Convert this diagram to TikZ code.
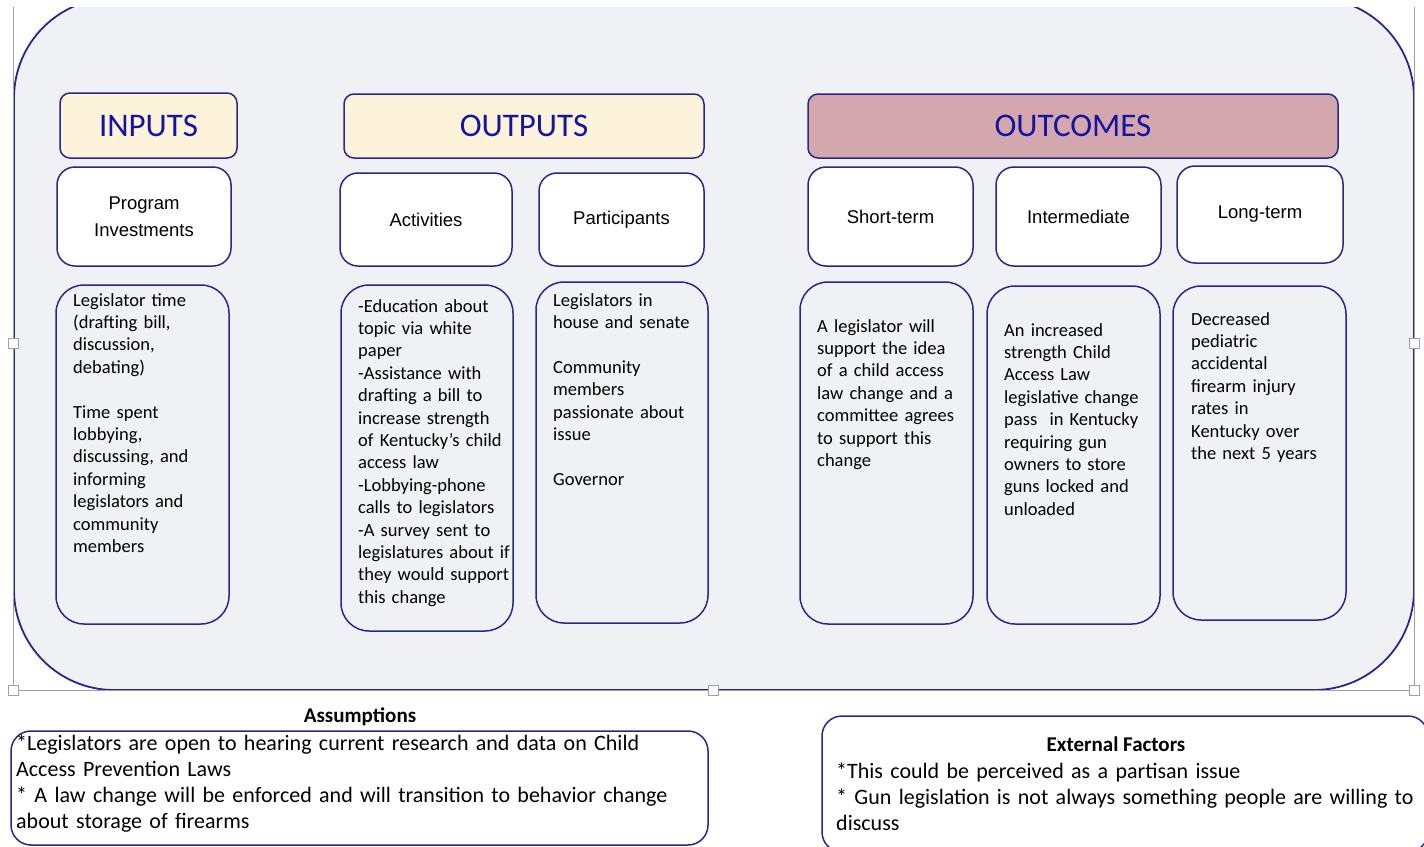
\documentclass[tikz,border=0pt]{standalone}
\usepackage{fontspec}
\setmainfont{Carlito}
\newfontfamily\arialfont{Liberation Sans}

\definecolor{framecol}{RGB}{40,40,140}
\definecolor{bgfill}{RGB}{240,241,244}
\definecolor{creamfill}{RGB}{252,243,218}
\definecolor{mauvefill}{RGB}{212,166,174}
\definecolor{hdrtext}{RGB}{20,20,160}
\definecolor{selgray}{RGB}{160,160,160}

\tikzset{
  hdrbox/.style={draw=framecol, line width=1.5pt, rounded corners=10pt, inner sep=0pt,
    font=\fontsize{33}{40}\selectfont, text=hdrtext},
  lblbox/.style={draw=framecol, fill=white, line width=1.5pt, rounded corners=18pt, inner sep=0pt,
    align=center, font=\arialfont\fontsize{18.5}{27}\selectfont},
  bodybox/.style={draw=framecol, line width=1.5pt, rounded corners=28pt, inner sep=0pt},
  bodytext/.style={anchor=base west, inner sep=0pt, text width=170pt, align=left,
    font=\fontsize{18.5}{22.4}\selectfont},
  notebox/.style={draw=framecol, fill=white, line width=1.5pt, rounded corners=20pt, inner sep=0pt},
  notetext/.style={anchor=base west, inner sep=0pt, align=left,
    font=\fontsize{22}{26}\selectfont},
  notetitle/.style={anchor=base, inner sep=0pt, font=\bfseries\fontsize{21}{26}\selectfont},
  handle/.style={draw=selgray, fill=white, line width=0.8pt, minimum size=10pt, inner sep=0pt}
}

\begin{document}
\begin{tikzpicture}[x=1pt, y=-1pt]
        \clip (0,0) rectangle (1424,846);
        \fill[white] (0,0) rectangle (1424,846);

        % the big rounded panel, cut at the top of the page
        \begin{scope}
          \clip (0,7) rectangle (1424,846);
          \filldraw[fill=bgfill, draw=framecol, line width=1.8pt, rounded corners=100pt] (14,-2) rectangle (1414,690);
        \end{scope}

        % selection frame
        \draw[selgray, line width=1pt] (13,7) -- (13,690) -- (1414,690) -- (1414,7);

        % headings
        \node[hdrbox, fill=creamfill, minimum width=177pt, minimum height=65pt] (inputs) at (148.5,125.5) {INPUTS};
        \node[hdrbox, fill=creamfill, minimum width=360pt, minimum height=64pt] (outputs) at (524,126) {OUTPUTS};
        \node[hdrbox, fill=mauvefill, minimum width=530pt, minimum height=64pt] (outcomes) at (1073,126) {OUTCOMES};

        % column labels
        \node[lblbox, minimum width=174pt, minimum height=99pt] (invest) at (144,216.5) {Program\\Investments};
        \node[lblbox, minimum width=172pt, minimum height=93pt] (activ) at (426,219.5) {Activities};
        \node[lblbox, minimum width=165pt, minimum height=93pt] (partic) at (621.5,219.5) {Participants};
        \node[lblbox, minimum width=165pt, minimum height=99pt] (shortt) at (890.5,216.5) {Short-term};
        \node[lblbox, minimum width=165pt, minimum height=99pt] (interm) at (1078.5,216.5) {Intermediate};
        \node[lblbox, minimum width=166pt, minimum height=97pt] (longt) at (1260,214.5) {Long-term};

        % column bodies
        \node[bodybox, minimum width=173pt, minimum height=339pt] (investbody) at (142.5,454.5) {};
        \node[bodybox, minimum width=172pt, minimum height=346pt] (activbody) at (427,458) {};
        \node[bodybox, minimum width=172pt, minimum height=341pt] (particbody) at (622,452.5) {};
        \node[bodybox, minimum width=173pt, minimum height=342pt] (shorttbody) at (886.5,453) {};
        \node[bodybox, minimum width=173pt, minimum height=338pt] (intermbody) at (1073.5,455) {};
        \node[bodybox, minimum width=173pt, minimum height=334pt] (longtbody) at (1259.5,453) {};

        \node[bodytext] (investtxt) at (73,306) {Legislator time\\(drafting bill,\\discussion,\\debating)\\[\baselineskip]Time spent\\lobbying,\\discussing, and\\informing\\legislators and\\community\\members};
        \node[bodytext] (activtxt) at (358,312) {-Education about\\topic via white\\paper\\-Assistance with\\drafting a bill to\\increase strength\\of Kentucky’s child\\access law\\-Lobbying-phone\\calls to legislators\\-A survey sent to\\legislatures about if\\they would support\\this change};
        \node[bodytext] (partictxt) at (553,306) {Legislators in\\house and senate\\[\baselineskip]Community\\members\\passionate about\\issue\\[\baselineskip]Governor};
        \node[bodytext] (shortttxt) at (817,332) {A legislator will\\support the idea\\of a child access\\law change and a\\committee agrees\\to support this\\change};
        \node[bodytext] (intermtxt) at (1004,336) {An increased\\strength Child\\Access Law\\legislative change\\pass\ \ in Kentucky\\requiring gun\\owners to store\\guns locked and\\unloaded};
        \node[bodytext] (longttxt) at (1191,325) {Decreased\\pediatric\\accidental\\firearm injury\\rates in\\Kentucky over\\the next 5 years};

        % assumptions and external factors
        \node[notetitle] (asstitle) at (360,722) {Assumptions};
        \node[notebox, minimum width=697pt, minimum height=114pt] (assbox) at (359.5,788) {};
        \node[notetext, text width=690pt] (asstxt) at (16,750) {*Legislators are open to hearing current research and data on Child\\Access Prevention Laws\\{}* A law change will be enforced and will transition to behavior change\\about storage of firearms};

        \node[notebox, minimum width=606pt, minimum height=136pt] (extbox) at (1125,784) {};
        \node[notetitle] (exttitle) at (1116,751) {External Factors};
        \node[notetext, text width=585pt] (exttxt) at (836,778) {*This could be perceived as a partisan issue\\{}* Gun legislation is not always something people are willing to\\discuss};

        % selection handles
        \node[handle] (hleft) at (13,343) {};
        \node[handle] (hright) at (1414,343) {};
        \node[handle] (hbotleft) at (13,690) {};
        \node[handle] (hbotmid) at (713,690) {};
        \node[handle] (hbotright) at (1414,690) {};
\end{tikzpicture}
\end{document}
